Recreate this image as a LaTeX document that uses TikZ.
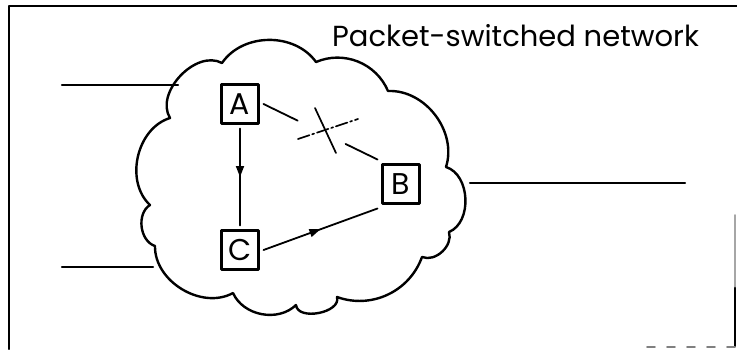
\documentclass[tikz,border=0pt]{standalone}
\usepackage{fontspec}
\setmainfont{Poppins}
\usetikzlibrary{arrows.meta,decorations.markings}
\begin{document}
\begin{tikzpicture}[x=1pt,y=-1pt,line cap=round,line join=round,
  router/.style={draw,line width=2.2pt,minimum width=37pt,minimum height=39pt,
    inner sep=0pt,outer sep=5pt,font=\fontsize{30}{30}\selectfont},
  flow/.style={line width=1.8pt,postaction={decorate},
    decoration={markings,mark=at position 0.5 with {\arrow{Triangle[length=11pt,width=8pt]}}}},
  trunk/.style={line width=2.1pt}]
  \useasboundingbox (0,0) rectangle (737,349);
  \draw[line width=2.8pt] (737,6) -- (9,6) -- (9,349);
  \draw[line width=2pt,gray!70] (735,215) -- (735,288);
  \draw[line width=2.6pt] (735,288) -- (735,346);
  \draw[line width=1.8pt,gray,dash pattern=on 8pt off 12pt] (647,347) -- (735,347);
  \node[anchor=base west,inner sep=0pt,font=\fontsize{29}{29}\selectfont] (title) at (332,46) {Packet-switched network};
  \draw[line width=2.4pt] (170,118) to[bend left=75] (222,63) to[bend left=55] (316,62)
    to[bend left=45] (388,91) to[bend left=55] (446,167) to[bend left=70] (449,232)
    to[bend left=65] (422,257) to[bend left=45] (337,297) to[bend left=95] (296,305)
    to[bend left=55] (233,293) to[bend left=60] (155,246) to[bend left=65] (150,205)
    to[bend left=60] cycle;
  \coordinate (inA) at (178,85);
  \coordinate (inC) at (153,267);
  \coordinate (outB) at (470,183);
  \coordinate (hostA) at (62,85);
  \coordinate (hostC) at (62,267);
  \coordinate (hostB) at (685,183);
  \draw[trunk] (hostA) -- (inA);
  \draw[trunk] (hostC) -- (inC);
  \draw[trunk] (outB) -- (hostB);
  \node[router] (A) at (240,104) {A};
  \node[router] (B) at (401,184) {B};
  \node[router] (C) at (240,250) {C};
  \draw[flow] (A.south) -- (C.north);
  \draw[flow] (C.east) -- (B.south west);
  \path (A.east) -- (B.north west) coordinate[pos=0.3] (ab1) coordinate[pos=0.72] (ab2);
  \draw[line width=1.8pt] (A.east) -- (ab1);
  \draw[line width=1.8pt] (ab2) -- (B.north west);
  \draw[line width=1.7pt] (315,108) -- (336,153);
  \draw[line width=1.7pt,dash pattern=on 12pt off 3pt on 2pt off 3pt] (298,139) -- (358,119);
\end{tikzpicture}
\end{document}
